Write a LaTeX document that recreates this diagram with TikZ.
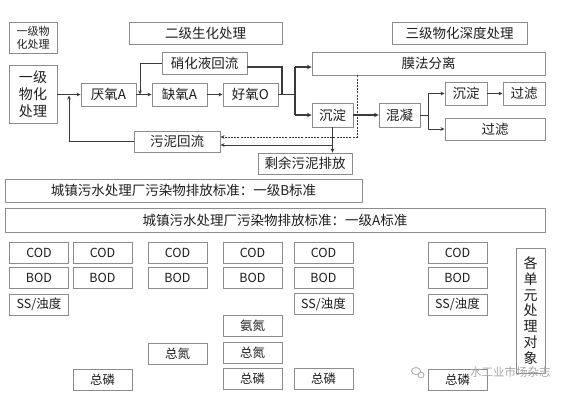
\documentclass[tikz,border=0pt]{standalone}
\usepackage{fontspec}
\setmainfont{Noto Sans CJK SC}
\usetikzlibrary{arrows.meta,shapes.geometric}
\definecolor{bxc}{HTML}{8C8C8C}
\definecolor{lnc}{HTML}{3A3A3A}
\definecolor{txc}{HTML}{1E1E1E}
\definecolor{wmc}{HTML}{A8A8A8}
\tikzset{
  bx/.style={draw=bxc, line width=0.9pt, fill=white, inner sep=0pt, text=txc,
    font=\fontsize{13.5}{15}\selectfont, align=center},
  sm/.style={bx, font=\fontsize{12.5}{14}\selectfont},
  conn/.style={draw=lnc, line width=0.8pt},
  arr/.style={conn, -{Stealth[length=4pt,width=3.6pt]}},
  thk/.style={draw=lnc, line width=1.8pt},
  thkarr/.style={thk, -{Stealth[length=4.5pt,width=4.5pt]}},
  dsh/.style={draw=lnc, line width=0.8pt, dash pattern=on 2pt off 1.2pt, -{Stealth[length=4pt,width=3.6pt]}},
}
\newcommand\bbox[7][bx]{\node[#1, minimum width=#5pt, minimum height=#6pt] (#2) at (#3,#4) {#7};}
\begin{document}
\begin{tikzpicture}[x=1pt,y=-1pt]
\useasboundingbox[fill=white] (0,0) rectangle (562,404);
% top row
\bbox[bx,font=\fontsize{11}{13}\selectfont]{t1}{33}{37.5}{48}{31}{一级物\\化处理}
\bbox[bx,font=\fontsize{14}{17}\selectfont]{p1}{33}{94}{48}{58}{一级\\物化\\处理}
\bbox{h2}{205.5}{33}{153}{22}{二级生化处理}
\bbox{nr}{204.5}{63}{85}{22}{硝化液回流}
\bbox{an}{108.5}{94.5}{55}{23}{厌氧A}
\bbox{ax}{179.5}{94.5}{55}{23}{缺氧A}
\bbox{ox}{250.5}{94.5}{55}{23}{好氧O}
\bbox{sr}{177}{141.5}{86}{21}{污泥回流}
\bbox{ex}{305}{163.5}{94}{21}{剩余污泥排放}
\bbox{h3}{459.5}{33}{135}{22}{三级物化深度处理}
\bbox{mb}{428.5}{63.5}{233}{23}{膜法分离}
\bbox{s1}{332.5}{115}{41}{24}{沉淀}
\bbox{hn}{399.5}{115}{41}{24}{混凝}
\bbox{s2}{466}{93.5}{42}{23}{沉淀}
\bbox{f1}{524}{93.5}{42}{23}{过滤}
\bbox{f2}{495}{129}{100}{22}{过滤}
% standards
\bbox{sb}{183.5}{190.5}{357}{23}{城镇污水处理厂污染物排放标准：一级B标准}
\bbox{sa}{275}{220}{540}{24}{城镇污水处理厂污染物排放标准：一级A标准}
% coordinates
\coordinate (jA) at (69,94.5);
\coordinate (jN) at (140,94.5);
\coordinate (jR) at (282,94.5);
\coordinate (jS) at (295,94.5);
\coordinate (jSt) at (295,67);
\coordinate (jSb) at (295,115);
\coordinate (jM) at (428,115);
\coordinate (jD) at (357,137);
\coordinate (jE) at (332.5,145);
% connectors
\draw[arr] (p1.east |- jA) -- (an.west |- jA);
\draw[arr] (an) -- (ax);
\draw[arr] (ax) -- (ox);
\draw[arr] (nr.west) -| (jN);
\draw[thk] ([yshift=-4pt]nr.east) -| (jR);
\draw[thk] (ox.east) -- (jS);
\draw[thk] (jSt) -- (jSb);
\draw[thkarr] (jSt) -- (jSt -| mb.west);
\draw[thkarr] (jSb) -- (s1.west);
\draw[thkarr] (s1) -- (hn);
\draw[conn] (hn.east) -- (jM);
\draw[arr] (jM) |- (s2.west);
\draw[arr] (jM) |- (f2.west);
\draw[arr] (s2) -- (f1);
\draw[dsh] (mb.south -| jD) -- (jD) -- (jD -| sr.east);
\draw[arr] (s1.south) -- (s1.south |- ex.north);
\draw[arr] (jE) -- (jE -| sr.east);
\draw[arr] (sr.west) -| ([yshift=-1pt]jA);
% bottom grid
\foreach \n/\x in {1/39,2/102.5,3/177.5,4/252.5,5/323.5,6/457.5}{
  \bbox[sm]{cod\n}{\x}{252.5}{59}{21}{COD}
  \bbox[sm]{bod\n}{\x}{278}{59}{21}{BOD}
}
\bbox[sm]{ss1}{39}{304.5}{59}{21}{SS/浊度}
\bbox[sm]{ss5}{323.5}{304}{59}{21}{SS/浊度}
\bbox[sm]{ss6}{457.5}{304.5}{59}{21}{SS/浊度}
\bbox[sm]{an4}{252.5}{326}{59}{21}{氨氮}
\bbox[sm]{tn3}{177.5}{353.5}{59}{21}{总氮}
\bbox[sm]{tn4}{252.5}{352.5}{59}{21}{总氮}
\bbox[sm]{tp2}{102.5}{380}{59}{21}{总磷}
\bbox[sm]{tp4}{252.5}{378.5}{59}{21}{总磷}
\bbox[sm]{tp5}{323.5}{378.5}{59}{21}{总磷}
\bbox[sm]{tp6}{457.5}{380}{59}{21}{总磷}
\bbox[bx,font=\fontsize{14}{15.7}\selectfont]{obj}{530.5}{310.5}{29}{125}{各\\单\\元\\处\\理\\对\\象}
% watermark
\node[text=wmc, font=\fontsize{11.5}{13}\selectfont, inner sep=0pt, anchor=west] (wm) at (470,372) {水工业市场杂志};
\node[draw=wmc, line width=0.8pt, ellipse, minimum width=9pt, minimum height=7pt, inner sep=0pt] (wi1) at (416,371) {};
\node[draw=wmc, line width=0.8pt, circle, minimum size=6pt, inner sep=0pt, fill=white] (wi2) at (421,375) {};
\end{tikzpicture}
\end{document}
